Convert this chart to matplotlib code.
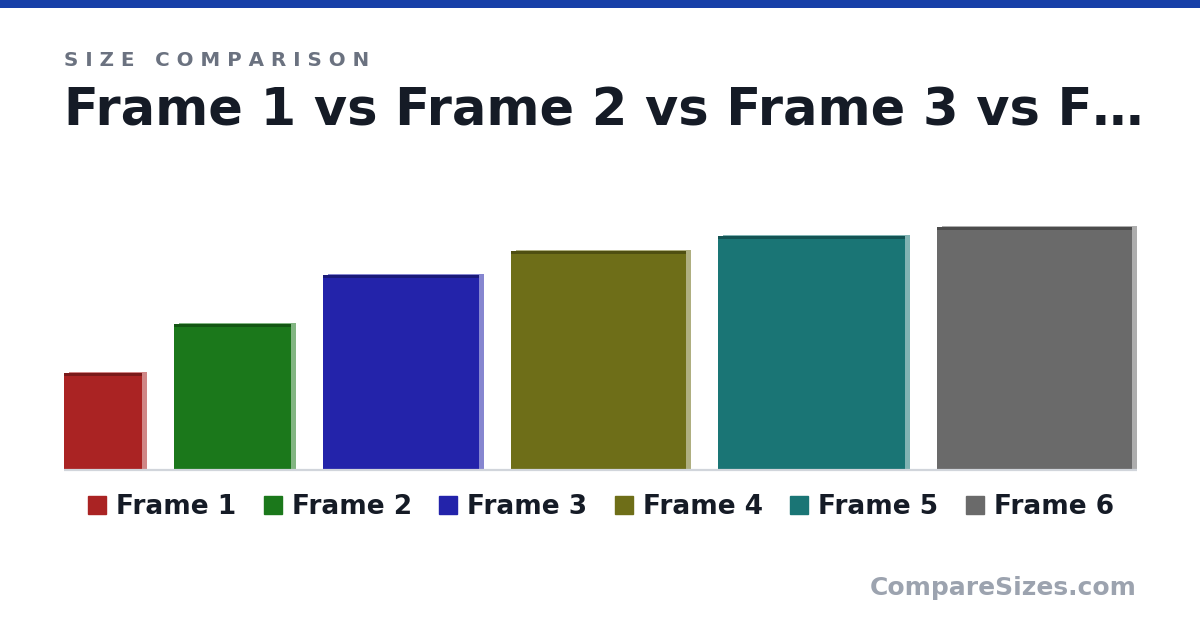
import matplotlib
matplotlib.use("Agg")
import matplotlib.pyplot as plt
from matplotlib.patches import Rectangle
from matplotlib import colors as mcolors

# frame sizes (width, height) and colours
labels = ["Frame 1", "Frame 2", "Frame 3", "Frame 4", "Frame 5", "Frame 6"]
widths = [8, 12, 16, 18, 19.25, 20]
heights = [10, 15, 20, 22.5, 24, 25]
bar_colors = ["#aa2323", "#1b781b", "#2323aa", "#6e6e18", "#1a7575", "#6a6a6a"]

W, H, DPI = 1200, 630, 100
fig = plt.figure(figsize=(W / DPI, H / DPI), dpi=DPI)
fig.patch.set_facecolor("white")

# blue strip at the top
fig.add_artist(Rectangle((0, 1 - 8 / H), 1, 8 / H, transform=fig.transFigure,
                         color="#1740a8", lw=0))

fig.text(64 / W, 1 - 60 / H, "S I Z E   C O M P A R I S O N", fontsize=14.35,
         fontweight="bold", color="#6b7280", va="center", ha="left")
fig.text(64 / W, 1 - 111 / H, "Frame 1 vs Frame 2 vs Frame 3 vs F…", fontsize=36.7,
         fontweight="bold", color="#151b26", va="center", ha="left")

# plot area in pixels: x 64..1137, baseline at y=470
px_unit = 9.737  # pixels per data unit
gap = 32 / px_unit
left_px, right_px, base_px, top_px = 64, 1137, 470, 200
ax = fig.add_axes([left_px / W, (H - base_px) / H,
                   (right_px - left_px) / W, (base_px - top_px) / H])
ax.set_xlim(0, (right_px - left_px) / px_unit)
ax.set_ylim(0, (base_px - top_px) / px_unit)
ax.axis("off")

dx, dy = 5 / px_unit, 2 / px_unit
band = 3 / px_unit
x = 0
for w, h, c in zip(widths, heights, bar_colors):
    rgb = mcolors.to_rgb(c)
    light = tuple(0.55 * v + 0.45 for v in rgb)
    dark = tuple(0.72 * v for v in rgb)
    ax.add_patch(Rectangle((x + dx, dy - 1 / px_unit), w, h, color=light, lw=0, zorder=1))
    ax.add_patch(Rectangle((x, 0), w, h, color=c, lw=0, zorder=2))
    ax.add_patch(Rectangle((x, h - band), w, band, color=dark, lw=0, zorder=3))
    x += w + gap

ax.plot([0, (right_px - left_px) / px_unit], [0, 0], color="#d1d5db", lw=1.6,
        zorder=4, solid_capstyle="butt", clip_on=False)

handles = [Rectangle((0, 0), 1, 1, color=c) for c in bar_colors]
fig.legend(handles, labels, loc="center", bbox_to_anchor=(601 / W, 1 - 507 / H),
           ncol=6, frameon=False, prop={"weight": "bold", "size": 19},
           handlelength=0.68, handleheight=0.68, handletextpad=0.38,
           columnspacing=1.04, labelcolor="#151b26")

fig.text(1137 / W, 1 - 588 / H, "CompareSizes.com", fontsize=18.0, fontweight="bold",
         color="#9ca3af", ha="right", va="center")

fig.savefig("out.png", dpi=DPI, facecolor="white")
